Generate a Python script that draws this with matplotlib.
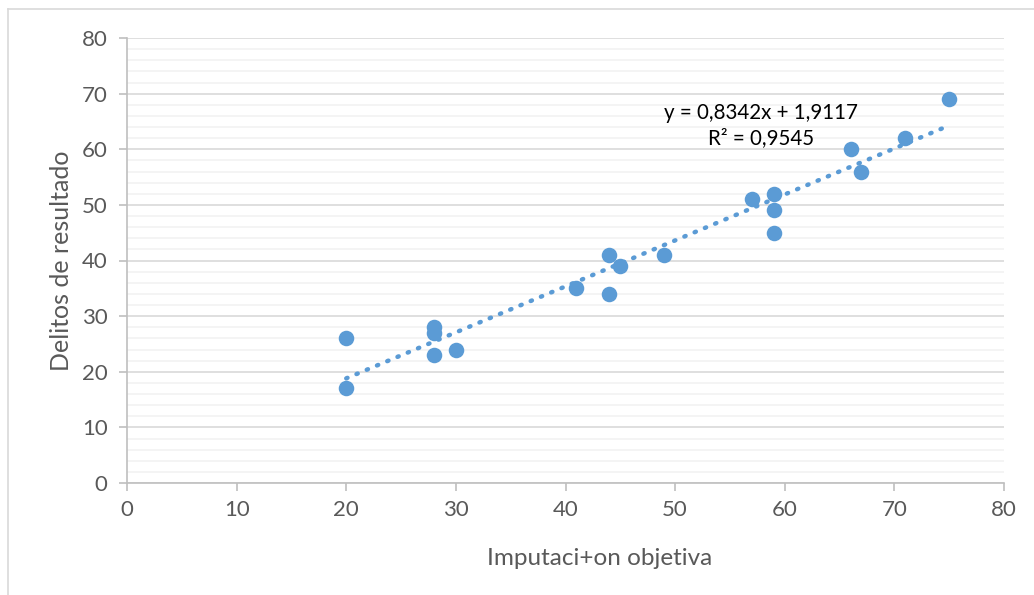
import numpy as np
import matplotlib.pyplot as plt
from matplotlib.lines import Line2D

plt.rcParams['font.family'] = ['Lato', 'DejaVu Sans']

# datos
imputacion = [20, 20, 28, 28, 28, 30, 41, 44, 44, 45, 49, 57, 59, 59, 59, 66, 67, 71, 75]
delitos = [26, 17, 28, 27, 23, 24, 35, 41, 34, 39, 41, 51, 52, 49, 45, 60, 56, 62, 69]
ecuacion = 'y = 0,8342x + 1,9117\nR² = 0,9545'

azul = '#5B9BD5'
gris_txt = '#595959'

fig = plt.figure(figsize=(10.34, 5.95), dpi=100)
ax = fig.add_axes([127 / 1034, (595 - 483) / 595, 877 / 1034, 445 / 595])

# lineas de cuadricula
ax.set_yticks(np.arange(0, 81, 2), minor=True)
ax.grid(True, axis='y', which='minor', color='#f2f2f2', linewidth=1.2)
ax.grid(True, axis='y', which='major', color='#d9d9d9', linewidth=1.2)
ax.set_axisbelow(True)

# linea de tendencia
a, b = np.polyfit(imputacion, delitos, 1)
xs = np.array([min(imputacion), max(imputacion)])
ax.plot(xs, a * xs + b, linestyle=(0, (0.3, 2.2)), dash_capstyle='round',
        color=azul, linewidth=3.2, zorder=2)

# puntos
ax.scatter(imputacion, delitos, s=125, color=azul, zorder=3, linewidths=0)

ax.text(57.8, 64.3, ecuacion, ha='center', va='center', multialignment='center',
        fontsize=14.8, color='black', linespacing=1.3)

ax.set_xlim(0, 80)
ax.set_ylim(0, 80)
ax.set_xticks(range(0, 81, 10))
ax.set_yticks(range(0, 81, 10))
ax.tick_params(axis='both', which='major', length=6, width=1.2, color='#bfbfbf',
               labelsize=16, labelcolor=gris_txt, pad=6)
ax.tick_params(axis='both', which='minor', length=0)
ax.tick_params(axis='y', which='major', pad=8)
for lado in ['top', 'right']:
    ax.spines[lado].set_visible(False)
for lado in ['left', 'bottom']:
    ax.spines[lado].set_color('#bfbfbf')
    ax.spines[lado].set_linewidth(1.2)

ax.set_xlabel('Imputaci+on objetiva', fontsize=17.5, color=gris_txt)
ax.xaxis.set_label_coords(0.539, -0.145)
ax.set_ylabel('Delitos de resultado', fontsize=18, color=gris_txt)
ax.yaxis.set_label_coords(-0.062, 0.5)

# borde del area del grafico
fig.add_artist(Line2D([8 / 1034, 1], [1 - 9 / 595, 1 - 9 / 595], color='#d9d9d9', linewidth=1.2))
fig.add_artist(Line2D([8 / 1034, 8 / 1034], [0, 1 - 9 / 595], color='#d9d9d9', linewidth=1.2))

fig.savefig('out.png', dpi=100)
